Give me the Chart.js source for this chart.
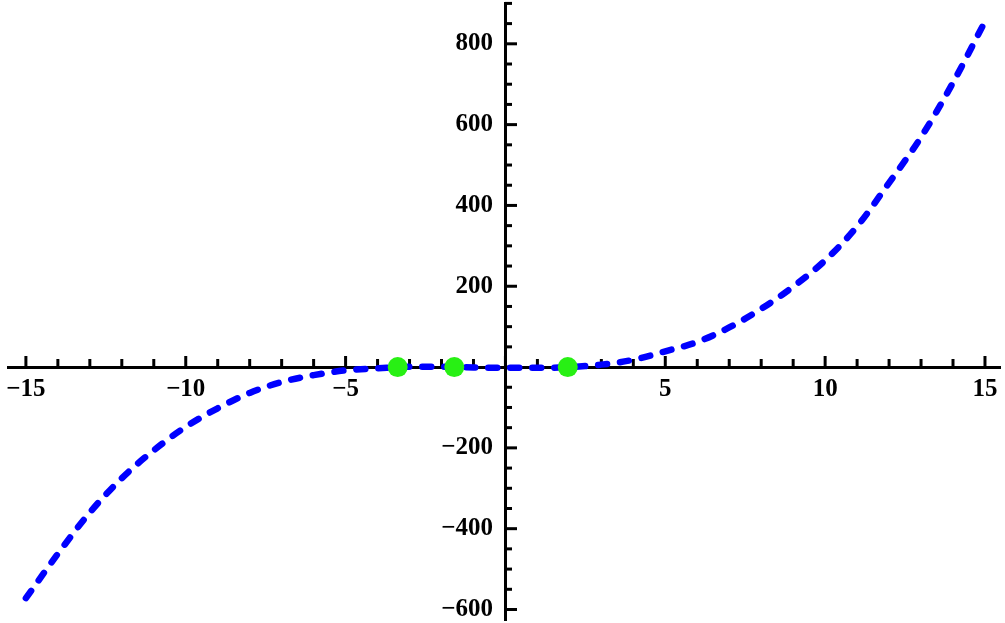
<!DOCTYPE html>
<html>
<head>
<meta charset="utf-8">
<script src="https://cdn.jsdelivr.net/npm/chart.js@4.4.0/dist/chart.umd.min.js"></script>
<style>
  html, body { margin: 0; padding: 0; background: #fff; }
  #wrap { width: 1005px; height: 623px; }
</style>
</head>
<body>
<div id="wrap"><canvas id="myChart" width="1005" height="623"></canvas></div>
<script>
// curve samples
var xValues = [-15, -14, -13, -12, -11, -10, -9, -8, -7, -6, -5, -4, -3, -2, -1, 0, 1, 2, 3, 4, 5, 6, 7, 8, 9, 10, 11, 12, 13, 14, 15];
var yValues = [-572, -462, -360, -275, -206, -148, -102, -64, -37, -20, -8, -3, 1, 1, -1, -2, -2, 0, 6, 18, 39, 62, 98, 144, 199, 264, 348, 456, 569, 704, 855];

// the green dots on the x axis
var rootX = [-3.37, -1.6, 1.95];
var rootY = [0, 0, 0];

// tick labels
var xTicks = [-15, -10, -5, 5, 10, 15];
var yTicks = [-600, -400, -200, 200, 400, 600, 800];

var curve = xValues.map(function(x, i) { return { x: x, y: yValues[i] }; });
var roots = rootX.map(function(x, i) { return { x: x, y: rootY[i] }; });

// real minus sign, no zero label
var fmtX = function(v) {
    if (v === 0) return "";
    return String(v).replace("-", "\u2212");
};
// y labels sit flush on the axis in chart.js, so pad them with an en space
var fmtY = function(v) {
    if (v === 0) return "";
    return String(v).replace("-", "\u2212") + "\u2002";
};

// drop the room chart.js keeps for labels hanging over the ends
var noOverflow = function(axis) {
    axis.paddingLeft = 0;
    axis.paddingRight = 0;
    axis.paddingTop = 0;
    axis.paddingBottom = 0;
};

// small tick marks, Mathematica style (up on x, right on y)
var tickMarks = {
    id: "tickMarks",
    beforeDatasetsDraw: function(chart) {
        var ctx = chart.ctx;
        var xs = chart.scales.x;
        var ys = chart.scales.y;
        var x0 = Math.round(xs.getPixelForValue(0));
        var y0 = Math.round(ys.getPixelForValue(0));
        ctx.save();
        ctx.strokeStyle = "#000";
        ctx.lineWidth = 3;
        for (var i = -15; i <= 15; i++) {
            var px = xs.getPixelForValue(i);
            var len = (i % 5 === 0) ? 11 : 8;
            ctx.beginPath();
            ctx.moveTo(px, y0);
            ctx.lineTo(px, y0 - len);
            ctx.stroke();
        }
        for (var v = -600; v <= 900; v += 50) {
            var py = ys.getPixelForValue(v);
            var l = (v % 200 === 0) ? 12 : 7;
            ctx.beginPath();
            ctx.moveTo(x0, py);
            ctx.lineTo(x0 + l, py);
            ctx.stroke();
        }
        ctx.restore();
    }
};

var ctx = document.getElementById("myChart").getContext("2d");

var cubicChart = new Chart(ctx, {
    type: "scatter",
    data: {
        datasets: [{
            data: curve,
            showLine: true,
            borderColor: "#0000ff",
            borderWidth: 6.5,
            borderDash: [9, 13],
            borderCapStyle: "round",
            cubicInterpolationMode: "monotone",
            pointRadius: 0,
            order: 2
        }, {
            data: roots,
            showLine: false,
            pointRadius: 10,
            pointBackgroundColor: "#28f014",
            pointBorderColor: "#28f014",
            pointBorderWidth: 0,
            order: 1
        }]
    },
    options: {
        responsive: false,
        animation: false,
        layout: {
            autoPadding: false,
            padding: { left: 8, right: 5, top: 3, bottom: 3 }
        },
        plugins: {
            legend: { display: false },
            tooltip: { enabled: false }
        },
        scales: {
            x: {
                type: "linear",
                position: { y: 0 },
                min: -15.56,
                max: 15.47,
                grid: { drawOnChartArea: false, drawTicks: false },
                border: { display: true, color: "#000", width: 3 },
                afterBuildTicks: function(axis) {
                    axis.ticks = xTicks.map(function(v) { return { value: v }; });
                },
                afterFit: noOverflow,
                ticks: {
                    padding: 7,
                    color: "#000",
                    font: { family: "Liberation Serif", size: 25, weight: "bold" },
                    callback: fmtX
                }
            },
            y: {
                type: "linear",
                position: { x: 0 },
                min: -626,
                max: 901,
                grid: { drawOnChartArea: false, drawTicks: false },
                border: { display: true, color: "#000", width: 3 },
                afterBuildTicks: function(axis) {
                    axis.ticks = yTicks.map(function(v) { return { value: v }; });
                },
                afterFit: noOverflow,
                ticks: {
                    color: "#000",
                    font: { family: "Liberation Serif", size: 25, weight: "bold" },
                    callback: fmtY
                }
            }
        }
    },
    plugins: [tickMarks]
});
</script>
</body>
</html>
